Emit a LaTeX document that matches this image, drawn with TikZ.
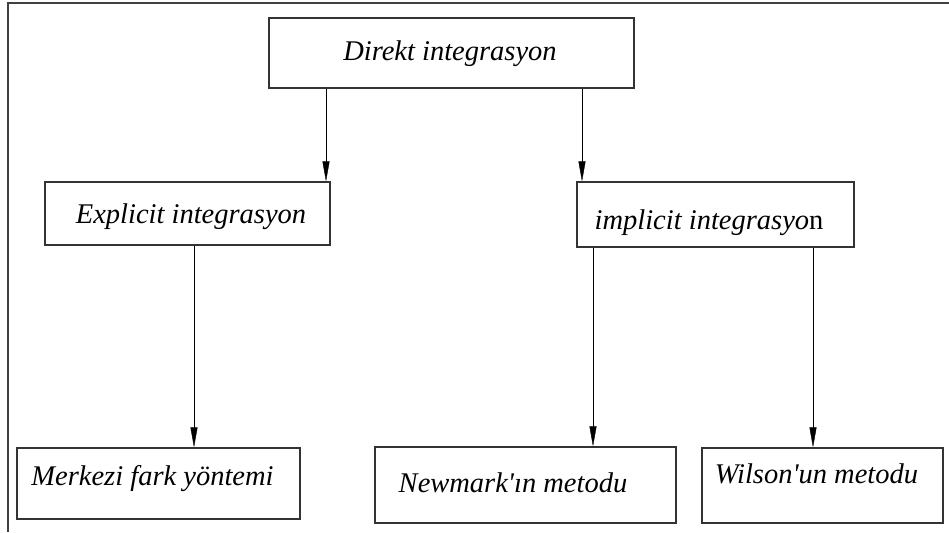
\documentclass[tikz,border=0pt]{standalone}
\usepackage{fontspec}
\usetikzlibrary{arrows.meta}
\newfontfamily\boxfont{Liberation Serif}

\tikzset{
  box/.style={draw=black!80, line width=1.2pt, inner sep=0pt},
  lbl/.style={anchor=base, inner sep=0pt, font=\boxfont\itshape\fontsize{28.5}{34}\selectfont},
}

\begin{document}
\begin{tikzpicture}[x=1pt,y=-1pt,>={Triangle[length=20pt,width=7pt]}]
 \useasboundingbox (0,0) rectangle (949,532);
 \draw[black!75,line width=1.5pt] (8,532) |- (949,3);

 \node[box,minimum width=365pt,minimum height=70pt] (direkt) at (451.5,53) {};
 \node[lbl] (direkt-t) at (450,61) {Direkt integrasyon};

 \node[box,minimum width=285pt,minimum height=63pt] (explicit) at (187.5,213.5) {};
 \node[lbl] (explicit-t) at (191,223) {Explicit integrasyon};
 \node[box,minimum width=277pt,minimum height=65pt] (implicit) at (715.5,214.5) {};
 \node[lbl] (implicit-t) at (709,229) {implicit integrasyo\upshape n};

 \node[box,minimum width=283pt,minimum height=71pt] (merkezi) at (158.5,483.5) {};
 \node[lbl] (merkezi-t) at (152.5,485) {Merkezi fark yöntemi};
 \node[box,minimum width=301pt,minimum height=76pt] (newmark) at (525.5,485) {};
 \node[lbl] (newmark-t) at (513,492) {Newmark'ın metodu};
 \node[box,minimum width=241pt,minimum height=75pt] (wilson) at (822.5,485.5) {};
 \node[lbl] (wilson-t) at (816.5,483) {Wilson'un metodu};

 \draw[->] ([xshift=-125.5pt]direkt.south) -- ([xshift=-125.5pt]direkt.south |- explicit.north);
 \draw[->] ([xshift=130.5pt]direkt.south) -- ([xshift=130.5pt]direkt.south |- implicit.north);
 \draw[->] ([xshift=6.5pt]explicit.south) -- ([xshift=6.5pt]explicit.south |- merkezi.north);
 \draw[->] ([xshift=-122.5pt]implicit.south) -- ([xshift=-122.5pt]implicit.south |- newmark.north);
 \draw[->] ([xshift=97.5pt]implicit.south) -- ([xshift=97.5pt]implicit.south |- wilson.north);
\end{tikzpicture}
\end{document}
